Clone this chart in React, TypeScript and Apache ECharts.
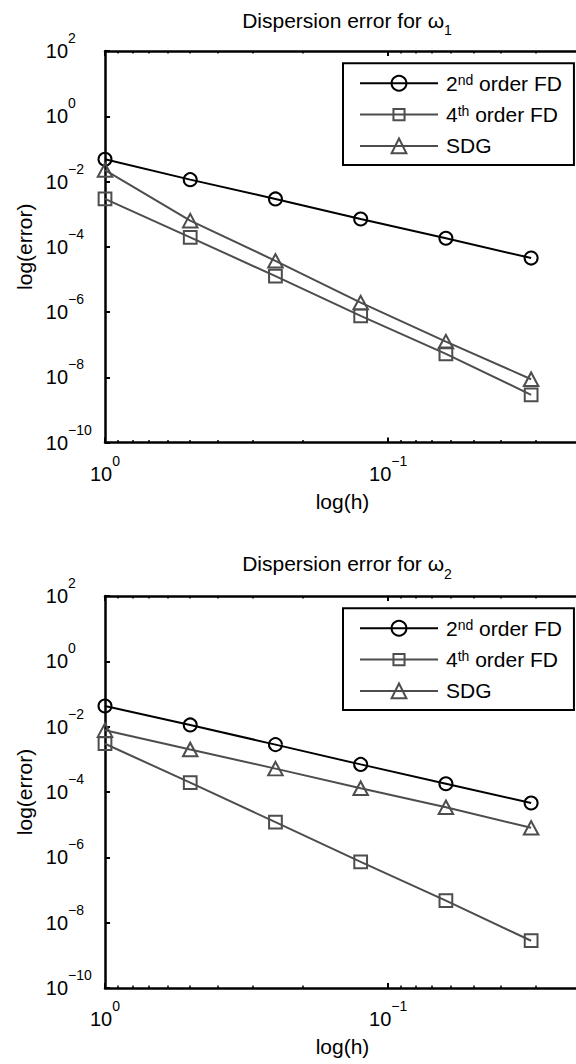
import React, { useEffect, useRef } from "react";
import * as echarts from "echarts";

// ---- data ----
const hValues = [1, 1 / 2, 1 / 4, 1 / 8, 1 / 16, 1 / 32];
const seriesNames = ["2nd order FD", "4th order FD", "SDG"];

// Dispersion error for omega_1
const omega1Second = [4.8e-2, 1.14e-2, 2.92e-3, 7.1e-4, 1.82e-4, 4.5e-5];
const omega1Fourth = [2.95e-3, 1.95e-4, 1.25e-5, 7.6e-7, 5.2e-8, 2.9e-9];
const omega1SDG = [2.24e-2, 6.3e-4, 3.7e-5, 1.94e-6, 1.24e-7, 8.7e-9];

// Dispersion error for omega_2
const omega2Second = [4.3e-2, 1.13e-2, 2.82e-3, 7.0e-4, 1.79e-4, 4.6e-5];
const omega2Fourth = [3.0e-3, 1.93e-4, 1.19e-5, 7.3e-7, 4.7e-8, 2.8e-9];
const omega2SDG = [7.8e-3, 2.0e-3, 5.2e-4, 1.3e-4, 3.4e-5, 8.0e-6];

// tick values
const yTickValues = [1e-10, 1e-8, 1e-6, 1e-4, 1e-2, 1, 1e2];
const xTickValues = [1, 0.1];
const xMinorTickValues = [0.9, 0.8, 0.7, 0.6, 0.5, 0.4, 0.3, 0.2, 0.09, 0.08, 0.07, 0.06, 0.05, 0.04, 0.03];

const FONT = "'Liberation Sans', Arial, Helvetica, sans-serif";
const BLACK = "#000000";
const GRAY = "#4d4d4d";

const X_MIN = 0.021;
const X_MAX = 1;
const Y_MIN = 1e-10;
const Y_MAX = 1e2;

// square marker with a little empty margin, so it looks smaller than the circle
const SQUARE_SYMBOL = "path://M0,0M18,18M2.25,2.25L15.75,2.25L15.75,15.75L2.25,15.75Z";

function expLabel(v: number): string {
  const e = Math.round(Math.log10(v));
  const s = e < 0 ? "\u2212" + String(-e) : String(e);
  return "{b|10}{s|" + s + "}";
}

function legendLabel(name: string): string {
  if (name === "2nd order FD") return "{b|2}{s|nd}{b| order FD}";
  if (name === "4th order FD") return "{b|4}{s|th}{b| order FD}";
  return "{b|" + name + "}";
}

export default function App() {
  const ref = useRef<HTMLDivElement>(null);

  useEffect(() => {
    if (!ref.current) return;
    const chart = echarts.init(ref.current, undefined, { renderer: "svg" });

    const grids = [
      { left: 105, top: 51, width: 475, height: 391.5 },
      { left: 105, top: 596, width: 475, height: 392 },
    ];

    const xAxes: any[] = [];
    const yAxes: any[] = [];
    grids.forEach((_, gi) => {
      // main bottom axis with labels
      xAxes.push({
        type: "log",
        logBase: 10,
        gridIndex: gi,
        position: "bottom",
        min: X_MIN,
        max: X_MAX,
        inverse: true,
        name: "log(h)",
        nameLocation: "middle",
        nameGap: 48,
        nameTextStyle: { fontSize: 21, fontFamily: FONT, color: BLACK },
        axisLine: { show: true, lineStyle: { color: BLACK, width: 2.5 } },
        axisTick: { show: true, inside: true, length: 5, customValues: xTickValues, lineStyle: { color: BLACK, width: 2 } },
        minorTick: { show: false },
        splitLine: { show: false },
        minorSplitLine: { show: false },
        axisLabel: {
          show: true,
          customValues: xTickValues,
          margin: 11,
          formatter: (v: number) => expLabel(v),
          rich: {
            b: { fontSize: 20, lineHeight: 40, fontFamily: FONT, color: BLACK },
            s: { fontSize: 14, lineHeight: 18, verticalAlign: "top", fontFamily: FONT, color: BLACK },
          },
        },
      });
      // top axis (frame) with major ticks
      xAxes.push({
        type: "log",
        logBase: 10,
        gridIndex: gi,
        position: "top",
        min: X_MIN,
        max: X_MAX,
        inverse: true,
        axisLine: { show: true, lineStyle: { color: BLACK, width: 2.5 } },
        axisTick: { show: true, inside: true, length: 5, customValues: xTickValues, lineStyle: { color: BLACK, width: 2 } },
        axisLabel: { show: false },
        splitLine: { show: false },
      });
      // minor tick axes (one per side)
      ["bottom", "top"].forEach((pos) => {
        xAxes.push({
          type: "log",
          logBase: 10,
          gridIndex: gi,
          position: pos,
          min: X_MIN,
          max: X_MAX,
          inverse: true,
          axisLine: { show: false },
          axisTick: { show: true, inside: true, length: 2.5, customValues: xMinorTickValues, lineStyle: { color: BLACK, width: 1.5 } },
          axisLabel: { show: false },
          splitLine: { show: false },
        });
      });
      yAxes.push({
        type: "log",
        logBase: 10,
        gridIndex: gi,
        position: "left",
        min: Y_MIN,
        max: Y_MAX,
        name: "log(error)",
        nameLocation: "middle",
        nameGap: 70,
        nameTextStyle: { fontSize: 21, fontFamily: FONT, color: BLACK },
        axisLine: { show: true, lineStyle: { color: BLACK, width: 2.5 } },
        axisTick: { show: true, inside: true, length: 5, customValues: yTickValues, lineStyle: { color: BLACK, width: 2 } },
        splitLine: { show: false },
        minorTick: { show: false },
        axisLabel: {
          show: true,
          customValues: yTickValues,
          margin: 7,
          formatter: (v: number) => expLabel(v),
          rich: {
            b: { fontSize: 20, lineHeight: 40, align: "left", fontFamily: FONT, color: BLACK },
            s: { fontSize: 14, lineHeight: 18, verticalAlign: "top", align: "left", width: 30, fontFamily: FONT, color: BLACK },
          },
        },
      });
    });

    const datasets = [
      [omega1Second, omega1Fourth, omega1SDG],
      [omega2Second, omega2Fourth, omega2SDG],
    ];
    const symbols: any[] = ["circle", SQUARE_SYMBOL, "triangle"];
    const symbolSizes: any[] = [13, 17, [14.5, 13.5]];
    const colors = [BLACK, GRAY, GRAY];

    const series: any[] = [];
    datasets.forEach((sets, gi) => {
      sets.forEach((vals, si) => {
        series.push({
          type: "line",
          name: seriesNames[si],
          xAxisIndex: gi * 4,
          yAxisIndex: gi,
          data: hValues.map((h, i) => [h, vals[i]]),
          symbol: symbols[si],
          symbolSize: symbolSizes[si],
          showAllSymbol: true,
          clip: false,
          silent: true,
          lineStyle: { color: colors[si], width: 2 },
          itemStyle: { color: "rgba(0,0,0,0)", borderColor: colors[si], borderWidth: 2 },
          emphasis: { disabled: true },
          z: 3,
        });
      });
    });

    const legendRich = {
      b: { fontSize: 21, lineHeight: 21, fontFamily: FONT, color: BLACK },
      s: { fontSize: 14, lineHeight: 5, verticalAlign: "top", fontFamily: FONT, color: BLACK },
    };
    const legends = [63.3, 608.3].map((top) => ({
      show: true,
      data: seriesNames,
      orient: "vertical",
      left: 343,
      top,
      itemWidth: 78,
      itemHeight: 18.5,
      itemGap: 10.3,
      padding: [9.5, 12, 8.5, 16],
      borderColor: BLACK,
      borderWidth: 2,
      borderRadius: 0,
      backgroundColor: "#ffffff",
      selectedMode: false,
      formatter: (name: string) => legendLabel(name),
      itemStyle: { borderWidth: 2 },
      lineStyle: { width: 2 },
      textStyle: { fontSize: 21, fontFamily: FONT, color: BLACK, padding: [0, 0, 0, 3], rich: legendRich },
    }));

    const titleRich = {
      a: { fontSize: 21, lineHeight: 34, fontFamily: FONT, fill: BLACK },
      s: { fontSize: 14, lineHeight: 14, verticalAlign: "bottom", fontFamily: FONT, fill: BLACK },
    };
    const graphic = [
      { sub: "1", y: 20 },
      { sub: "2", y: 563.5 },
    ].map((t) => ({
      type: "text",
      x: 347,
      y: t.y,
      silent: true,
      style: {
        text: "{a|Dispersion error for \u03c9}{s|" + t.sub + "}",
        rich: titleRich,
        align: "center",
        verticalAlign: "middle",
        fill: BLACK,
        fontFamily: FONT,
        fontSize: 21,
      },
    }));

    chart.setOption({
      animation: false,
      backgroundColor: "#ffffff",
      textStyle: { fontFamily: FONT },
      grid: grids.map((g) => ({ ...g, containLabel: false, outerBoundsMode: "none" })),
      xAxis: xAxes,
      yAxis: yAxes,
      legend: legends,
      series,
      graphic,
    });

    return () => {
      chart.dispose();
    };
  }, []);

  return (
    <div
      style={{
        position: "fixed",
        left: 0,
        top: 0,
        width: 576,
        height: 1064,
        overflow: "hidden",
        background: "#ffffff",
      }}
    >
      <div ref={ref} style={{ width: 640, height: 1064 }} />
    </div>
  );
}
